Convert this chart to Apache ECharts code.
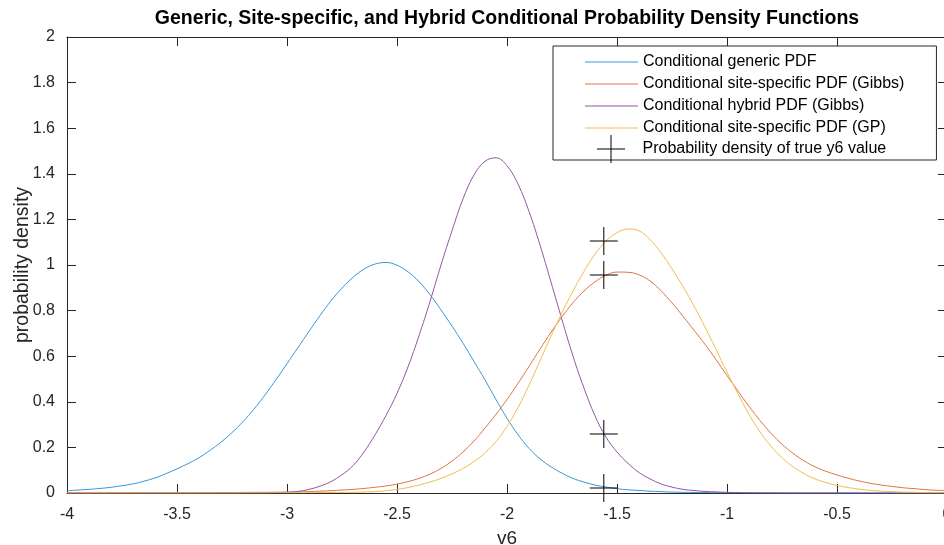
<!DOCTYPE html>
<html>
<head>
<meta charset="utf-8">
<script src="https://cdn.jsdelivr.net/npm/echarts@6/dist/echarts.min.js"></script>
<style>
html,body{margin:0;padding:0;overflow:hidden;background:#fff;}
#chart{width:947px;height:545px;}
</style>
</head>
<body>
<div id="chart"></div>
<script>
const xValues = [
  -4.00,-3.95,-3.90,-3.85,-3.80,-3.75,-3.70,-3.65,-3.60,-3.55,
  -3.50,-3.45,-3.40,-3.35,-3.30,-3.25,-3.20,-3.15,-3.10,-3.05,
  -3.00,-2.95,-2.90,-2.85,-2.80,-2.75,-2.70,-2.65,-2.60,-2.55,
  -2.50,-2.45,-2.40,-2.35,-2.30,-2.25,-2.20,-2.15,-2.10,-2.05,
  -2.00,-1.95,-1.90,-1.85,-1.80,-1.75,-1.70,-1.65,-1.60,-1.55,
  -1.50,-1.45,-1.40,-1.35,-1.30,-1.25,-1.20,-1.15,-1.10,-1.05,
  -1.00,-0.95,-0.90,-0.85,-0.80,-0.75,-0.70,-0.65,-0.60,-0.55,
  -0.50,-0.45,-0.40,-0.35,-0.30,-0.25,-0.20,-0.15,-0.10,-0.05,
  0.00];

const genericPDF = [
  0.010,0.013,0.016,0.020,0.025,0.032,0.040,0.052,0.066,0.085,
  0.106,0.129,0.155,0.187,0.223,0.265,0.313,0.368,0.430,0.497,
  0.567,0.638,0.709,0.778,0.843,0.899,0.946,0.982,1.004,1.011,
  0.999,0.970,0.927,0.870,0.803,0.732,0.657,0.577,0.496,0.410,
  0.328,0.256,0.196,0.150,0.115,0.087,0.064,0.048,0.035,0.026,
  0.019,0.014,0.011,0.008,0.006,0.004,0.003,0.0025,0.002,0.0015,
  0.001,0.0007,0.0005,0.0003,0.0002,0.0001,0.0001,0,0,0,
  0,0,0,0,0,0,0,0,0,0,
  0];

const siteGibbsPDF = [
  0.0003,0.0003,0.0004,0.0004,0.0005,0.0006,0.0007,0.0008,0.001,0.0011,
  0.0012,0.0013,0.0015,0.0017,0.002,0.0022,0.0025,0.0028,0.003,0.0035,
  0.004,0.005,0.006,0.008,0.010,0.013,0.016,0.020,0.025,0.031,
  0.039,0.050,0.064,0.083,0.108,0.140,0.180,0.228,0.285,0.345,
  0.410,0.481,0.555,0.631,0.705,0.773,0.835,0.886,0.926,0.955,
  0.969,0.968,0.957,0.930,0.887,0.834,0.775,0.714,0.652,0.585,
  0.515,0.447,0.380,0.318,0.262,0.214,0.174,0.141,0.115,0.095,
  0.079,0.065,0.053,0.043,0.035,0.029,0.023,0.019,0.015,0.012,
  0.010];

const hybridGibbsPDF = [
  0,0,0,0,0,0,0,0,0,0,
  0,0,0,0,0,0,0.0005,0.0007,0.001,0.002,
  0.003,0.007,0.016,0.030,0.050,0.080,0.120,0.180,0.255,0.340,
  0.437,0.553,0.690,0.840,1.000,1.150,1.290,1.395,1.455,1.470,
  1.435,1.355,1.235,1.088,0.925,0.760,0.600,0.460,0.338,0.245,
  0.180,0.130,0.090,0.062,0.040,0.026,0.016,0.011,0.007,0.005,
  0.003,0.002,0.001,0.0007,0.0005,0.0003,0.0002,0,0,0,
  0,0,0,0,0,0,0,0,0,0,
  0];

const siteGPPDF = [
  0,0,0,0,0,0,0,0,0,0,
  0,0,0,0,0,0,0.0005,0.0006,0.0008,0.0009,
  0.001,0.0012,0.0015,0.0018,0.002,0.0025,0.003,0.004,0.006,0.010,
  0.016,0.024,0.035,0.048,0.064,0.084,0.108,0.138,0.176,0.226,
  0.292,0.375,0.473,0.580,0.688,0.791,0.886,0.972,1.047,1.105,
  1.142,1.158,1.150,1.112,1.054,0.983,0.905,0.820,0.728,0.630,
  0.530,0.435,0.345,0.268,0.205,0.155,0.115,0.085,0.062,0.046,
  0.033,0.024,0.017,0.012,0.008,0.006,0.004,0.003,0.002,0.0015,
  0.001];

const trueX = -1.56;
const trueDensity = [1.105, 0.956, 0.259, 0.022];

const seriesNames = [
  'Conditional generic PDF',
  'Conditional site-specific PDF (Gibbs)',
  'Conditional hybrid PDF (Gibbs)',
  'Conditional site-specific PDF (GP)',
  'Probability density of true y6 value'
];
const xTicks = {min: -4, max: 0, interval: 0.5};
const yTicks = {min: 0, max: 2, interval: 0.2};

const FONT = '"Liberation Sans", Arial, Helvetica, sans-serif';
const AX = '#262626';
const CROSS = 'path://M0,13.5L28,13.5L28,14.5L0,14.5Z M13.5,0L14.5,0L14.5,28L13.5,28Z';
const LINE_ICON = 'path://M0,0L53,0L53,1.2L0,1.2Z';
const colors = ['#3a96d4', '#de7448', '#9553a8', '#f0bd4a'];

function pairs(ys){ return xValues.map((x,i)=>[x, ys[i]]); }

function lineSeries(name, ys, color){
  return {
    name: name, type: 'line', data: pairs(ys), smooth: 0.4,
    symbol: 'none', showSymbol: false,
    lineStyle: {color: color, width: 1},
    itemStyle: {color: color},
    xAxisIndex: 0, yAxisIndex: 0, silent: true, z: 2
  };
}

const chart = echarts.init(document.getElementById('chart'), null, {renderer: 'canvas'});
const option = {
  animation: false,
  backgroundColor: '#ffffff',
  title: {
    text: 'Generic, Site-specific, and Hybrid Conditional Probability Density Functions',
    left: 507, top: 9, padding: 0, textAlign: 'center',
    textStyle: {fontFamily: FONT, fontSize: 19.5, fontWeight: 'bold', color: '#000'}
  },
  grid: {left: 67, top: 37, right: 0, bottom: 52, containLabel: false, outerBoundsMode: 'none'},
  legend: [
    {
      data: seriesNames.slice(0, 4).map(n => ({name: n, icon: LINE_ICON})),
      orient: 'vertical', left: 553, top: 46,
      padding: [8, 32, 24, 32],
      itemWidth: 53, itemHeight: 14, itemGap: 6,
      borderColor: AX, borderWidth: 1, backgroundColor: '#fff',
      textStyle: {fontFamily: FONT, fontSize: 16, color: '#000'},
      selectedMode: false
    },
    {
      data: [{name: seriesNames[4], icon: CROSS}],
      orient: 'vertical', left: 597, top: 135,
      padding: 0,
      itemWidth: 53, itemHeight: 28,
      textStyle: {fontFamily: FONT, fontSize: 16, color: '#000'},
      selectedMode: false
    }
  ],
  xAxis: [
    {
      type: 'value', position: 'bottom', min: xTicks.min, max: xTicks.max, interval: xTicks.interval,
      name: 'v6', nameLocation: 'middle', nameGap: 36, nameMoveOverlap: false,
      nameTextStyle: {fontFamily: FONT, fontSize: 19, color: AX},
      axisLine: {show: true, onZero: false, lineStyle: {color: AX, width: 1}},
      axisTick: {show: true, inside: true, length: 9, lineStyle: {color: AX}},
      axisLabel: {fontFamily: FONT, fontSize: 16, color: AX, margin: 14},
      splitLine: {show: false}
    },
    {
      type: 'value', position: 'top', min: xTicks.min, max: xTicks.max, interval: xTicks.interval,
      axisLine: {show: true, onZero: false, lineStyle: {color: AX, width: 1}},
      axisTick: {show: true, inside: true, length: 9, lineStyle: {color: AX}},
      axisLabel: {show: false}, splitLine: {show: false}
    }
  ],
  yAxis: [
    {
      type: 'value', position: 'left', min: yTicks.min, max: yTicks.max, interval: yTicks.interval,
      name: 'probability density', nameLocation: 'middle', nameGap: 34, nameMoveOverlap: false,
      nameTextStyle: {fontFamily: FONT, fontSize: 19.5, color: AX},
      axisLine: {show: true, onZero: false, lineStyle: {color: AX, width: 1}},
      axisTick: {show: true, inside: true, length: 9, lineStyle: {color: AX}},
      axisLabel: {fontFamily: FONT, fontSize: 16, color: AX, margin: 12},
      splitLine: {show: false}
    },
    {
      type: 'value', position: 'right', min: yTicks.min, max: yTicks.max, interval: yTicks.interval,
      axisLine: {show: true, onZero: false, lineStyle: {color: AX, width: 1}},
      axisTick: {show: true, inside: true, length: 9, lineStyle: {color: AX}},
      axisLabel: {show: false}, splitLine: {show: false}
    }
  ],
  series: [
    lineSeries(seriesNames[0], genericPDF, colors[0]),
    lineSeries(seriesNames[1], siteGibbsPDF, colors[1]),
    lineSeries(seriesNames[2], hybridGibbsPDF, colors[2]),
    lineSeries(seriesNames[3], siteGPPDF, colors[3]),
    {
      name: seriesNames[4], type: 'scatter',
      data: trueDensity.map(v => [trueX, v]),
      symbol: CROSS, symbolSize: 28,
      itemStyle: {color: '#000', opacity: 1},
      xAxisIndex: 0, yAxisIndex: 0, silent: true, z: 5
    }
  ]
};
chart.setOption(option);
</script>
</body>
</html>
